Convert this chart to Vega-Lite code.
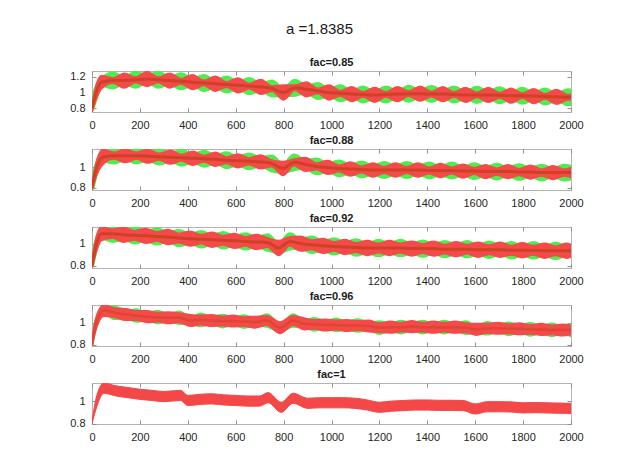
{
"$schema": "https://vega.github.io/schema/vega-lite/v6.json",
"background": "white",
"padding": {"left": 69, "top": 22, "right": 5, "bottom": 5},
"title": {"text": "a =1.8385", "fontSize": 15, "fontWeight": "normal", "font": "Liberation Sans", "color": "#1a1a1a", "offset": 19, "dx": -7, "anchor": "middle"},
"datasets": {
"p1": [
{"x":0,"m":0.8,"rl":0.76,"rh":0.84,"gl":0.78,"gh":0.82},
{"x":15,"m":0.98,"rl":0.9,"rh":1.06,"gl":0.93,"gh":1.03},
{"x":40,"m":1.13,"rl":1.05,"rh":1.21,"gl":1.1,"gh":1.16},
{"x":87,"m":1.15,"rl":1.12,"rh":1.18,"gl":1.065,"gh":1.235},
{"x":135,"m":1.15,"rl":1.06,"rh":1.24,"gl":1.12,"gh":1.18},
{"x":182,"m":1.16,"rl":1.13,"rh":1.19,"gl":1.075,"gh":1.245},
{"x":230,"m":1.17,"rl":1.08,"rh":1.26,"gl":1.14,"gh":1.2},
{"x":277,"m":1.16,"rl":1.13,"rh":1.19,"gl":1.075,"gh":1.245},
{"x":325,"m":1.15,"rl":1.06,"rh":1.24,"gl":1.12,"gh":1.18},
{"x":372,"m":1.14,"rl":1.11,"rh":1.17,"gl":1.055,"gh":1.225},
{"x":420,"m":1.13,"rl":1.04,"rh":1.22,"gl":1.1,"gh":1.16},
{"x":467,"m":1.12,"rl":1.09,"rh":1.15,"gl":1.035,"gh":1.205},
{"x":515,"m":1.11,"rl":1.02,"rh":1.2,"gl":1.08,"gh":1.14},
{"x":562,"m":1.1,"rl":1.07,"rh":1.13,"gl":1.015,"gh":1.185},
{"x":610,"m":1.09,"rl":1.0,"rh":1.18,"gl":1.06,"gh":1.12},
{"x":657,"m":1.08,"rl":1.05,"rh":1.11,"gl":0.995,"gh":1.165},
{"x":705,"m":1.07,"rl":0.98,"rh":1.16,"gl":1.04,"gh":1.1},
{"x":752,"m":1.05,"rl":1.02,"rh":1.08,"gl":0.965,"gh":1.135},
{"x":800,"m":1.0,"rl":0.91,"rh":1.09,"gl":0.97,"gh":1.03},
{"x":847,"m":1.06,"rl":1.03,"rh":1.09,"gl":0.975,"gh":1.145},
{"x":895,"m":1.04,"rl":0.95,"rh":1.13,"gl":1.01,"gh":1.07},
{"x":942,"m":1.02,"rl":0.99,"rh":1.05,"gl":0.935,"gh":1.105},
{"x":990,"m":1.0,"rl":0.91,"rh":1.09,"gl":0.97,"gh":1.03},
{"x":1037,"m":0.99,"rl":0.96,"rh":1.02,"gl":0.905,"gh":1.075},
{"x":1085,"m":0.98,"rl":0.89,"rh":1.07,"gl":0.95,"gh":1.01},
{"x":1132,"m":0.975,"rl":0.945,"rh":1.005,"gl":0.89,"gh":1.06},
{"x":1180,"m":0.97,"rl":0.88,"rh":1.06,"gl":0.94,"gh":1.0},
{"x":1227,"m":0.975,"rl":0.945,"rh":1.005,"gl":0.89,"gh":1.06},
{"x":1275,"m":0.98,"rl":0.89,"rh":1.07,"gl":0.95,"gh":1.01},
{"x":1322,"m":0.985,"rl":0.955,"rh":1.015,"gl":0.9,"gh":1.07},
{"x":1370,"m":0.985,"rl":0.895,"rh":1.075,"gl":0.955,"gh":1.015},
{"x":1417,"m":0.98,"rl":0.95,"rh":1.01,"gl":0.895,"gh":1.065},
{"x":1465,"m":0.98,"rl":0.89,"rh":1.07,"gl":0.95,"gh":1.01},
{"x":1512,"m":0.975,"rl":0.945,"rh":1.005,"gl":0.89,"gh":1.06},
{"x":1560,"m":0.97,"rl":0.88,"rh":1.06,"gl":0.94,"gh":1.0},
{"x":1607,"m":0.97,"rl":0.94,"rh":1.0,"gl":0.885,"gh":1.055},
{"x":1655,"m":0.97,"rl":0.88,"rh":1.06,"gl":0.94,"gh":1.0},
{"x":1702,"m":0.965,"rl":0.935,"rh":0.995,"gl":0.88,"gh":1.05},
{"x":1750,"m":0.96,"rl":0.87,"rh":1.05,"gl":0.93,"gh":0.99},
{"x":1797,"m":0.96,"rl":0.93,"rh":0.99,"gl":0.875,"gh":1.045},
{"x":1845,"m":0.955,"rl":0.865,"rh":1.045,"gl":0.925,"gh":0.985},
{"x":1892,"m":0.95,"rl":0.92,"rh":0.98,"gl":0.865,"gh":1.035},
{"x":1940,"m":0.945,"rl":0.855,"rh":1.035,"gl":0.915,"gh":0.975},
{"x":1987,"m":0.94,"rl":0.91,"rh":0.97,"gl":0.855,"gh":1.025},
{"x":2000,"m":0.94,"rl":0.905,"rh":0.975,"gl":0.86,"gh":1.02}
],
"p2": [
{"x":0,"m":0.8,"rl":0.78,"rh":0.84,"gl":0.79,"gh":0.82},
{"x":15,"m":0.96,"rl":0.9,"rh":1.02,"gl":0.93,"gh":0.99},
{"x":45,"m":1.1,"rl":1.03,"rh":1.175,"gl":1.07,"gh":1.13},
{"x":92,"m":1.115,"rl":1.085,"rh":1.145,"gl":1.05,"gh":1.18},
{"x":139,"m":1.115,"rl":1.05,"rh":1.18,"gl":1.085,"gh":1.145},
{"x":186,"m":1.115,"rl":1.085,"rh":1.145,"gl":1.05,"gh":1.18},
{"x":233,"m":1.11,"rl":1.045,"rh":1.175,"gl":1.08,"gh":1.14},
{"x":280,"m":1.105,"rl":1.075,"rh":1.135,"gl":1.04,"gh":1.17},
{"x":327,"m":1.1,"rl":1.035,"rh":1.165,"gl":1.07,"gh":1.13},
{"x":374,"m":1.095,"rl":1.065,"rh":1.125,"gl":1.03,"gh":1.16},
{"x":421,"m":1.09,"rl":1.025,"rh":1.155,"gl":1.06,"gh":1.12},
{"x":468,"m":1.085,"rl":1.055,"rh":1.115,"gl":1.02,"gh":1.15},
{"x":515,"m":1.08,"rl":1.015,"rh":1.145,"gl":1.05,"gh":1.11},
{"x":562,"m":1.07,"rl":1.04,"rh":1.1,"gl":1.005,"gh":1.135},
{"x":609,"m":1.065,"rl":1.0,"rh":1.13,"gl":1.035,"gh":1.095},
{"x":656,"m":1.06,"rl":1.03,"rh":1.09,"gl":0.995,"gh":1.125},
{"x":703,"m":1.055,"rl":0.99,"rh":1.12,"gl":1.025,"gh":1.085},
{"x":750,"m":1.04,"rl":1.01,"rh":1.07,"gl":0.975,"gh":1.105},
{"x":797,"m":0.99,"rl":0.925,"rh":1.055,"gl":0.96,"gh":1.02},
{"x":844,"m":1.05,"rl":1.02,"rh":1.08,"gl":0.985,"gh":1.115},
{"x":891,"m":1.03,"rl":0.965,"rh":1.095,"gl":1.0,"gh":1.06},
{"x":938,"m":1.01,"rl":0.98,"rh":1.04,"gl":0.945,"gh":1.075},
{"x":985,"m":1.0,"rl":0.935,"rh":1.065,"gl":0.97,"gh":1.03},
{"x":1032,"m":0.99,"rl":0.96,"rh":1.02,"gl":0.925,"gh":1.055},
{"x":1079,"m":0.985,"rl":0.92,"rh":1.05,"gl":0.955,"gh":1.015},
{"x":1126,"m":0.98,"rl":0.95,"rh":1.01,"gl":0.915,"gh":1.045},
{"x":1173,"m":0.975,"rl":0.91,"rh":1.04,"gl":0.945,"gh":1.005},
{"x":1220,"m":0.975,"rl":0.945,"rh":1.005,"gl":0.91,"gh":1.04},
{"x":1267,"m":0.975,"rl":0.91,"rh":1.04,"gl":0.945,"gh":1.005},
{"x":1314,"m":0.975,"rl":0.945,"rh":1.005,"gl":0.91,"gh":1.04},
{"x":1361,"m":0.975,"rl":0.91,"rh":1.04,"gl":0.945,"gh":1.005},
{"x":1408,"m":0.97,"rl":0.94,"rh":1.0,"gl":0.905,"gh":1.035},
{"x":1455,"m":0.97,"rl":0.905,"rh":1.035,"gl":0.94,"gh":1.0},
{"x":1502,"m":0.97,"rl":0.94,"rh":1.0,"gl":0.905,"gh":1.035},
{"x":1549,"m":0.965,"rl":0.9,"rh":1.03,"gl":0.935,"gh":0.995},
{"x":1596,"m":0.965,"rl":0.935,"rh":0.995,"gl":0.9,"gh":1.03},
{"x":1643,"m":0.96,"rl":0.895,"rh":1.025,"gl":0.93,"gh":0.99},
{"x":1690,"m":0.96,"rl":0.93,"rh":0.99,"gl":0.895,"gh":1.025},
{"x":1737,"m":0.96,"rl":0.895,"rh":1.025,"gl":0.93,"gh":0.99},
{"x":1784,"m":0.955,"rl":0.925,"rh":0.985,"gl":0.89,"gh":1.02},
{"x":1831,"m":0.955,"rl":0.89,"rh":1.02,"gl":0.925,"gh":0.985},
{"x":1878,"m":0.95,"rl":0.92,"rh":0.98,"gl":0.885,"gh":1.015},
{"x":1925,"m":0.95,"rl":0.885,"rh":1.015,"gl":0.92,"gh":0.98},
{"x":1972,"m":0.95,"rl":0.92,"rh":0.98,"gl":0.885,"gh":1.015},
{"x":2000,"m":0.95,"rl":0.905,"rh":0.995,"gl":0.895,"gh":1.005}
],
"p3": [
{"x":0,"m":0.8,"rl":0.78,"rh":0.83,"gl":0.79,"gh":0.82},
{"x":15,"m":0.97,"rl":0.91,"rh":1.03,"gl":0.94,"gh":1.0},
{"x":40,"m":1.09,"rl":1.03,"rh":1.15,"gl":1.055,"gh":1.125},
{"x":86,"m":1.09,"rl":1.05,"rh":1.13,"gl":1.025,"gh":1.15},
{"x":132,"m":1.08,"rl":1.015,"rh":1.145,"gl":1.045,"gh":1.115},
{"x":178,"m":1.075,"rl":1.035,"rh":1.115,"gl":1.01,"gh":1.14},
{"x":225,"m":1.07,"rl":1.005,"rh":1.135,"gl":1.035,"gh":1.105},
{"x":271,"m":1.065,"rl":1.025,"rh":1.105,"gl":1.0,"gh":1.13},
{"x":317,"m":1.06,"rl":0.995,"rh":1.125,"gl":1.025,"gh":1.095},
{"x":363,"m":1.05,"rl":1.01,"rh":1.09,"gl":0.985,"gh":1.115},
{"x":410,"m":1.045,"rl":0.98,"rh":1.11,"gl":1.01,"gh":1.08},
{"x":456,"m":1.04,"rl":1.0,"rh":1.08,"gl":0.975,"gh":1.105},
{"x":502,"m":1.035,"rl":0.97,"rh":1.1,"gl":1.0,"gh":1.07},
{"x":548,"m":1.03,"rl":0.99,"rh":1.07,"gl":0.965,"gh":1.095},
{"x":595,"m":1.025,"rl":0.96,"rh":1.09,"gl":0.99,"gh":1.06},
{"x":641,"m":1.02,"rl":0.98,"rh":1.06,"gl":0.955,"gh":1.085},
{"x":687,"m":1.015,"rl":0.95,"rh":1.08,"gl":0.98,"gh":1.05},
{"x":733,"m":1.01,"rl":0.97,"rh":1.05,"gl":0.945,"gh":1.075},
{"x":780,"m":0.96,"rl":0.895,"rh":1.025,"gl":0.925,"gh":0.995},
{"x":826,"m":1.02,"rl":0.98,"rh":1.06,"gl":0.955,"gh":1.085},
{"x":872,"m":1.0,"rl":0.935,"rh":1.065,"gl":0.965,"gh":1.035},
{"x":918,"m":0.99,"rl":0.95,"rh":1.03,"gl":0.925,"gh":1.055},
{"x":965,"m":0.98,"rl":0.915,"rh":1.045,"gl":0.945,"gh":1.015},
{"x":1011,"m":0.975,"rl":0.935,"rh":1.015,"gl":0.91,"gh":1.04},
{"x":1057,"m":0.97,"rl":0.905,"rh":1.035,"gl":0.935,"gh":1.005},
{"x":1103,"m":0.965,"rl":0.925,"rh":1.005,"gl":0.9,"gh":1.03},
{"x":1150,"m":0.96,"rl":0.895,"rh":1.025,"gl":0.925,"gh":0.995},
{"x":1196,"m":0.96,"rl":0.92,"rh":1.0,"gl":0.895,"gh":1.025},
{"x":1242,"m":0.96,"rl":0.895,"rh":1.025,"gl":0.925,"gh":0.995},
{"x":1288,"m":0.96,"rl":0.92,"rh":1.0,"gl":0.895,"gh":1.025},
{"x":1335,"m":0.955,"rl":0.89,"rh":1.02,"gl":0.92,"gh":0.99},
{"x":1381,"m":0.955,"rl":0.915,"rh":0.995,"gl":0.89,"gh":1.02},
{"x":1427,"m":0.955,"rl":0.89,"rh":1.02,"gl":0.92,"gh":0.99},
{"x":1473,"m":0.95,"rl":0.91,"rh":0.99,"gl":0.885,"gh":1.015},
{"x":1520,"m":0.95,"rl":0.885,"rh":1.015,"gl":0.915,"gh":0.985},
{"x":1566,"m":0.95,"rl":0.91,"rh":0.99,"gl":0.885,"gh":1.015},
{"x":1612,"m":0.945,"rl":0.88,"rh":1.01,"gl":0.91,"gh":0.98},
{"x":1658,"m":0.945,"rl":0.905,"rh":0.985,"gl":0.88,"gh":1.01},
{"x":1705,"m":0.945,"rl":0.88,"rh":1.01,"gl":0.91,"gh":0.98},
{"x":1751,"m":0.94,"rl":0.9,"rh":0.98,"gl":0.875,"gh":1.005},
{"x":1797,"m":0.94,"rl":0.875,"rh":1.005,"gl":0.905,"gh":0.975},
{"x":1843,"m":0.94,"rl":0.9,"rh":0.98,"gl":0.875,"gh":1.005},
{"x":1890,"m":0.935,"rl":0.87,"rh":1.0,"gl":0.9,"gh":0.97},
{"x":1936,"m":0.935,"rl":0.895,"rh":0.975,"gl":0.87,"gh":1.0},
{"x":1982,"m":0.935,"rl":0.87,"rh":1.0,"gl":0.9,"gh":0.97},
{"x":2000,"m":0.935,"rl":0.88,"rh":0.99,"gl":0.89,"gh":0.98}
],
"p4": [
{"x":0,"m":0.8,"rl":0.79,"rh":0.83,"gl":0.795,"gh":0.815},
{"x":15,"m":0.98,"rl":0.93,"rh":1.03,"gl":0.95,"gh":1.01},
{"x":50,"m":1.11,"rl":1.06,"rh":1.16,"gl":1.08,"gh":1.14},
{"x":95,"m":1.09,"rl":1.05,"rh":1.13,"gl":1.035,"gh":1.145},
{"x":140,"m":1.075,"rl":1.025,"rh":1.125,"gl":1.045,"gh":1.105},
{"x":185,"m":1.065,"rl":1.025,"rh":1.105,"gl":1.01,"gh":1.12},
{"x":230,"m":1.055,"rl":1.005,"rh":1.105,"gl":1.025,"gh":1.085},
{"x":275,"m":1.05,"rl":1.01,"rh":1.09,"gl":0.995,"gh":1.105},
{"x":320,"m":1.045,"rl":0.995,"rh":1.095,"gl":1.015,"gh":1.075},
{"x":365,"m":1.045,"rl":1.005,"rh":1.085,"gl":0.99,"gh":1.1},
{"x":410,"m":1.02,"rl":0.97,"rh":1.07,"gl":0.99,"gh":1.05},
{"x":455,"m":1.025,"rl":0.985,"rh":1.065,"gl":0.97,"gh":1.08},
{"x":500,"m":1.02,"rl":0.97,"rh":1.07,"gl":0.99,"gh":1.05},
{"x":545,"m":1.015,"rl":0.975,"rh":1.055,"gl":0.96,"gh":1.07},
{"x":590,"m":1.015,"rl":0.965,"rh":1.065,"gl":0.985,"gh":1.045},
{"x":635,"m":1.01,"rl":0.97,"rh":1.05,"gl":0.955,"gh":1.065},
{"x":680,"m":1.005,"rl":0.955,"rh":1.055,"gl":0.975,"gh":1.035},
{"x":730,"m":1.02,"rl":0.98,"rh":1.06,"gl":0.965,"gh":1.075},
{"x":785,"m":0.955,"rl":0.905,"rh":1.005,"gl":0.925,"gh":0.985},
{"x":840,"m":1.02,"rl":0.98,"rh":1.06,"gl":0.965,"gh":1.075},
{"x":885,"m":0.99,"rl":0.94,"rh":1.04,"gl":0.96,"gh":1.02},
{"x":930,"m":0.985,"rl":0.945,"rh":1.025,"gl":0.93,"gh":1.04},
{"x":975,"m":0.98,"rl":0.93,"rh":1.03,"gl":0.95,"gh":1.01},
{"x":1020,"m":0.98,"rl":0.94,"rh":1.02,"gl":0.925,"gh":1.035},
{"x":1065,"m":0.975,"rl":0.925,"rh":1.025,"gl":0.945,"gh":1.005},
{"x":1110,"m":0.975,"rl":0.935,"rh":1.015,"gl":0.92,"gh":1.03},
{"x":1155,"m":0.97,"rl":0.92,"rh":1.02,"gl":0.94,"gh":1.0},
{"x":1200,"m":0.955,"rl":0.915,"rh":0.995,"gl":0.9,"gh":1.01},
{"x":1245,"m":0.96,"rl":0.91,"rh":1.01,"gl":0.93,"gh":0.99},
{"x":1290,"m":0.96,"rl":0.92,"rh":1.0,"gl":0.905,"gh":1.015},
{"x":1335,"m":0.965,"rl":0.915,"rh":1.015,"gl":0.935,"gh":0.995},
{"x":1380,"m":0.96,"rl":0.92,"rh":1.0,"gl":0.905,"gh":1.015},
{"x":1425,"m":0.96,"rl":0.91,"rh":1.01,"gl":0.93,"gh":0.99},
{"x":1470,"m":0.96,"rl":0.92,"rh":1.0,"gl":0.905,"gh":1.015},
{"x":1515,"m":0.96,"rl":0.91,"rh":1.01,"gl":0.93,"gh":0.99},
{"x":1560,"m":0.955,"rl":0.915,"rh":0.995,"gl":0.9,"gh":1.01},
{"x":1605,"m":0.94,"rl":0.89,"rh":0.99,"gl":0.91,"gh":0.97},
{"x":1650,"m":0.95,"rl":0.91,"rh":0.99,"gl":0.895,"gh":1.005},
{"x":1695,"m":0.95,"rl":0.9,"rh":1.0,"gl":0.92,"gh":0.98},
{"x":1740,"m":0.945,"rl":0.905,"rh":0.985,"gl":0.89,"gh":1.0},
{"x":1785,"m":0.945,"rl":0.895,"rh":0.995,"gl":0.915,"gh":0.975},
{"x":1830,"m":0.94,"rl":0.9,"rh":0.98,"gl":0.885,"gh":0.995},
{"x":1875,"m":0.94,"rl":0.89,"rh":0.99,"gl":0.91,"gh":0.97},
{"x":1920,"m":0.935,"rl":0.895,"rh":0.975,"gl":0.88,"gh":0.99},
{"x":1965,"m":0.935,"rl":0.885,"rh":0.985,"gl":0.905,"gh":0.965},
{"x":2000,"m":0.935,"rl":0.895,"rh":0.975,"gl":0.88,"gh":0.99}
],
"p5": [
{"x":0,"m":0.8,"rl":0.797,"rh":0.82},
{"x":20,"m":1.0,"rl":0.95,"rh":1.05},
{"x":50,"m":1.115,"rl":1.07,"rh":1.16},
{"x":100,"m":1.09,"rl":1.045,"rh":1.135},
{"x":150,"m":1.075,"rl":1.03,"rh":1.12},
{"x":200,"m":1.06,"rl":1.015,"rh":1.105},
{"x":250,"m":1.05,"rl":1.005,"rh":1.095},
{"x":300,"m":1.04,"rl":0.995,"rh":1.085},
{"x":370,"m":1.05,"rl":1.005,"rh":1.095},
{"x":400,"m":1.005,"rl":0.96,"rh":1.05},
{"x":450,"m":1.015,"rl":0.97,"rh":1.06},
{"x":500,"m":1.02,"rl":0.975,"rh":1.065},
{"x":550,"m":1.01,"rl":0.965,"rh":1.055},
{"x":600,"m":1.005,"rl":0.96,"rh":1.05},
{"x":650,"m":1.0,"rl":0.955,"rh":1.045},
{"x":700,"m":1.0,"rl":0.955,"rh":1.045},
{"x":735,"m":1.03,"rl":0.985,"rh":1.075},
{"x":790,"m":0.945,"rl":0.9,"rh":0.99},
{"x":840,"m":1.025,"rl":0.98,"rh":1.07},
{"x":900,"m":0.98,"rl":0.935,"rh":1.025},
{"x":950,"m":0.985,"rl":0.94,"rh":1.03},
{"x":1000,"m":0.985,"rl":0.94,"rh":1.03},
{"x":1050,"m":0.985,"rl":0.94,"rh":1.03},
{"x":1100,"m":0.98,"rl":0.935,"rh":1.025},
{"x":1150,"m":0.965,"rl":0.92,"rh":1.01},
{"x":1200,"m":0.945,"rl":0.9,"rh":0.99},
{"x":1250,"m":0.955,"rl":0.91,"rh":1.0},
{"x":1300,"m":0.96,"rl":0.915,"rh":1.005},
{"x":1350,"m":0.965,"rl":0.92,"rh":1.01},
{"x":1400,"m":0.965,"rl":0.92,"rh":1.01},
{"x":1450,"m":0.962,"rl":0.917,"rh":1.007},
{"x":1500,"m":0.962,"rl":0.917,"rh":1.007},
{"x":1550,"m":0.96,"rl":0.915,"rh":1.005},
{"x":1600,"m":0.93,"rl":0.885,"rh":0.975},
{"x":1650,"m":0.95,"rl":0.905,"rh":0.995},
{"x":1700,"m":0.95,"rl":0.905,"rh":0.995},
{"x":1750,"m":0.948,"rl":0.903,"rh":0.993},
{"x":1800,"m":0.94,"rl":0.895,"rh":0.985},
{"x":1850,"m":0.942,"rl":0.897,"rh":0.987},
{"x":1900,"m":0.94,"rl":0.895,"rh":0.985},
{"x":1950,"m":0.937,"rl":0.892,"rh":0.982},
{"x":2000,"m":0.935,"rl":0.89,"rh":0.98}
]
},
"spacing": 37,
"bounds": "flush",
"vconcat": [
{"data": {"name": "p1"}, "title": "fac=0.85", "width": 479, "height": 41,
 "resolve": {"axis": {"x": "independent", "y": "independent"}},
 "layer": [
  {"mark": {"type": "area", "color": "#4ded4d", "stroke": "#4ded4d", "strokeWidth": 4.5, "interpolate": "monotone", "clip": true},
   "encoding": {"x": {"field": "x", "type": "quantitative", "title": null, "scale": {"domain": [0, 2000], "nice": false}, "axis": {"orient": "bottom", "format": "d", "values": [0,200,400,600,800,1000,1200,1400,1600,1800,2000]}},
    "y": {"field": "gl", "type": "quantitative", "title": null, "scale": {"domain": [0.755, 1.27], "nice": false, "zero": false}, "axis": {"orient": "left", "values": [0.8, 1, 1.2], "format": "~g"}},
    "y2": {"field": "gh"}}},
  {"mark": {"type": "area", "color": "#f44a4a", "stroke": "#f44a4a", "strokeWidth": 2, "interpolate": "monotone", "clip": true},
   "encoding": {"x": {"field": "x", "type": "quantitative", "title": null, "axis": {"orient": "top", "labels": false, "values": [0,200,400,600,800,1000,1200,1400,1600,1800,2000]}},
    "y": {"field": "rl", "type": "quantitative", "title": null, "axis": {"orient": "right", "labels": false, "values": [0.8, 1, 1.2]}},
    "y2": {"field": "rh"}}},
  {"mark": {"type": "line", "color": "#c8401f", "strokeWidth": 3, "opacity": 0.85, "interpolate": "monotone", "clip": true},
   "encoding": {"x": {"field": "x", "type": "quantitative", "axis": null}, "y": {"field": "m", "type": "quantitative", "axis": null}}}
 ]},
{"data": {"name": "p2"}, "title": "fac=0.88", "width": 479, "height": 41,
 "resolve": {"axis": {"x": "independent", "y": "independent"}},
 "layer": [
  {"mark": {"type": "area", "color": "#4ded4d", "stroke": "#4ded4d", "strokeWidth": 4.5, "interpolate": "monotone", "clip": true},
   "encoding": {"x": {"field": "x", "type": "quantitative", "title": null, "scale": {"domain": [0, 2000], "nice": false}, "axis": {"orient": "bottom", "format": "d", "values": [0,200,400,600,800,1000,1200,1400,1600,1800,2000]}},
    "y": {"field": "gl", "type": "quantitative", "title": null, "scale": {"domain": [0.78, 1.18], "nice": false, "zero": false}, "axis": {"orient": "left", "values": [0.8, 1], "format": "~g"}},
    "y2": {"field": "gh"}}},
  {"mark": {"type": "area", "color": "#f44a4a", "stroke": "#f44a4a", "strokeWidth": 2, "interpolate": "monotone", "clip": true},
   "encoding": {"x": {"field": "x", "type": "quantitative", "title": null, "axis": {"orient": "top", "labels": false, "values": [0,200,400,600,800,1000,1200,1400,1600,1800,2000]}},
    "y": {"field": "rl", "type": "quantitative", "title": null, "axis": {"orient": "right", "labels": false, "values": [0.8, 1]}},
    "y2": {"field": "rh"}}},
  {"mark": {"type": "line", "color": "#c8401f", "strokeWidth": 3, "opacity": 0.85, "interpolate": "monotone", "clip": true},
   "encoding": {"x": {"field": "x", "type": "quantitative", "axis": null}, "y": {"field": "m", "type": "quantitative", "axis": null}}}
 ]},
{"data": {"name": "p3"}, "title": "fac=0.92", "width": 479, "height": 41,
 "resolve": {"axis": {"x": "independent", "y": "independent"}},
 "layer": [
  {"mark": {"type": "area", "color": "#4ded4d", "stroke": "#4ded4d", "strokeWidth": 4, "interpolate": "monotone", "clip": true},
   "encoding": {"x": {"field": "x", "type": "quantitative", "title": null, "scale": {"domain": [0, 2000], "nice": false}, "axis": {"orient": "bottom", "format": "d", "values": [0,200,400,600,800,1000,1200,1400,1600,1800,2000]}},
    "y": {"field": "gl", "type": "quantitative", "title": null, "scale": {"domain": [0.78, 1.15], "nice": false, "zero": false}, "axis": {"orient": "left", "values": [0.8, 1], "format": "~g"}},
    "y2": {"field": "gh"}}},
  {"mark": {"type": "area", "color": "#f44a4a", "stroke": "#f44a4a", "strokeWidth": 2, "interpolate": "monotone", "clip": true},
   "encoding": {"x": {"field": "x", "type": "quantitative", "title": null, "axis": {"orient": "top", "labels": false, "values": [0,200,400,600,800,1000,1200,1400,1600,1800,2000]}},
    "y": {"field": "rl", "type": "quantitative", "title": null, "axis": {"orient": "right", "labels": false, "values": [0.8, 1]}},
    "y2": {"field": "rh"}}},
  {"mark": {"type": "line", "color": "#c8401f", "strokeWidth": 3, "opacity": 0.85, "interpolate": "monotone", "clip": true},
   "encoding": {"x": {"field": "x", "type": "quantitative", "axis": null}, "y": {"field": "m", "type": "quantitative", "axis": null}}}
 ]},
{"data": {"name": "p4"}, "title": "fac=0.96", "width": 479, "height": 41,
 "resolve": {"axis": {"x": "independent", "y": "independent"}},
 "layer": [
  {"mark": {"type": "area", "color": "#4ded4d", "stroke": "#4ded4d", "strokeWidth": 2.5, "interpolate": "monotone", "clip": true},
   "encoding": {"x": {"field": "x", "type": "quantitative", "title": null, "scale": {"domain": [0, 2000], "nice": false}, "axis": {"orient": "bottom", "format": "d", "values": [0,200,400,600,800,1000,1200,1400,1600,1800,2000]}},
    "y": {"field": "gl", "type": "quantitative", "title": null, "scale": {"domain": [0.79, 1.16], "nice": false, "zero": false}, "axis": {"orient": "left", "values": [0.8, 1], "format": "~g"}},
    "y2": {"field": "gh"}}},
  {"mark": {"type": "area", "color": "#f44a4a", "stroke": "#f44a4a", "strokeWidth": 2, "interpolate": "monotone", "clip": true},
   "encoding": {"x": {"field": "x", "type": "quantitative", "title": null, "axis": {"orient": "top", "labels": false, "values": [0,200,400,600,800,1000,1200,1400,1600,1800,2000]}},
    "y": {"field": "rl", "type": "quantitative", "title": null, "axis": {"orient": "right", "labels": false, "values": [0.8, 1]}},
    "y2": {"field": "rh"}}},
  {"mark": {"type": "line", "color": "#d8432c", "strokeWidth": 2.5, "opacity": 0.8, "interpolate": "monotone", "clip": true},
   "encoding": {"x": {"field": "x", "type": "quantitative", "axis": null}, "y": {"field": "m", "type": "quantitative", "axis": null}}}
 ]},
{"data": {"name": "p5"}, "title": "fac=1", "width": 479, "height": 41,
 "resolve": {"axis": {"x": "independent", "y": "independent"}},
 "layer": [
  {"mark": {"type": "area", "color": "#f44747", "stroke": "#f44747", "strokeWidth": 1, "interpolate": "monotone", "clip": true},
   "encoding": {"x": {"field": "x", "type": "quantitative", "title": null, "scale": {"domain": [0, 2000], "nice": false}, "axis": {"orient": "bottom", "format": "d", "values": [0,200,400,600,800,1000,1200,1400,1600,1800,2000]}},
    "y": {"field": "rl", "type": "quantitative", "title": null, "scale": {"domain": [0.797, 1.16], "nice": false, "zero": false}, "axis": {"orient": "left", "values": [0.8, 1], "format": "~g"}},
    "y2": {"field": "rh"}}},
  {"mark": {"type": "line", "color": "#f44747", "strokeWidth": 1, "opacity": 0, "clip": true},
   "encoding": {"x": {"field": "x", "type": "quantitative", "title": null, "axis": {"orient": "top", "labels": false, "values": [0,200,400,600,800,1000,1200,1400,1600,1800,2000]}},
    "y": {"field": "m", "type": "quantitative", "title": null, "axis": {"orient": "right", "labels": false, "values": [0.8, 1]}}}}
 ]}
],
"config": {
 "view": {"stroke": "#b3b3b3", "strokeWidth": 1},
 "axis": {"domain": false, "grid": false, "tickSize": -4, "tickColor": "#8f8f8f", "labelFont": "Liberation Sans", "labelFontSize": 11, "labelColor": "#262626", "labelPadding": 11, "labelFlush": false},
 "title": {"font": "Liberation Sans", "fontSize": 11, "fontWeight": "bold", "color": "#1a1a1a", "offset": 3}
}
}
